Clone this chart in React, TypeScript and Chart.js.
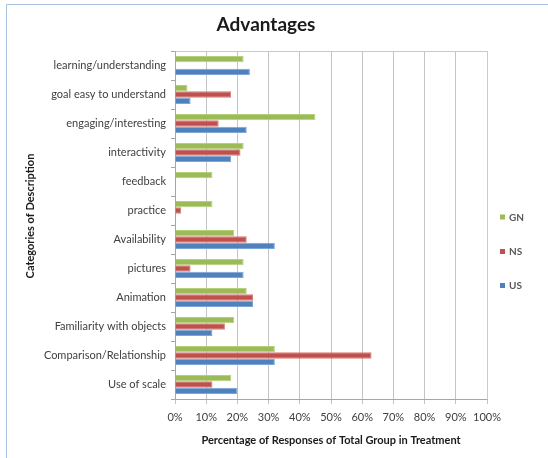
import React, { useEffect, useRef } from "react";
import { Chart, registerables } from "chart.js";

Chart.register(...registerables);

const chartTitle = "Advantages";
const xAxisTitle = "Percentage of Responses of Total Group in Treatment";
const yAxisTitle = "Categories of Description";

const categories = [
  "learning/understanding",
  "goal easy to understand",
  "engaging/interesting",
  "interactivity",
  "feedback",
  "practice",
  "Availability",
  "pictures",
  "Animation",
  "Familiarity with objects",
  "Comparison/Relationship",
  "Use of scale",
];

const seriesNames = ["GN", "NS", "US"];
const gnValues = [22, 4, 45, 22, 12, 12, 19, 22, 23, 19, 32, 18];
const nsValues = [0, 18, 14, 21, 0, 2, 23, 5, 25, 16, 63, 12];
const usValues = [24, 5, 23, 18, 0, 0, 32, 22, 25, 12, 32, 20];
const seriesColors = ["#9BBB59", "#C0504D", "#4F81BD"];
const seriesBorders = ["#B5D07A", "#D87C79", "#7FA4D6"];

const xMin = 0;
const xMax = 100;
const xStep = 10;

const FONT = "Lato, 'Open Sans', sans-serif";

const decorPlugin = {
  id: "decor",
  beforeDraw(chart: any) {
    const ctx = chart.ctx;
    ctx.save();
    ctx.fillStyle = "#FFFFFF";
    ctx.fillRect(0, 0, chart.width, chart.height);
    ctx.strokeStyle = "#A9C1E0";
    ctx.lineWidth = 1;
    ctx.beginPath();
    ctx.moveTo(6.5, chart.height);
    ctx.lineTo(6.5, 4.5);
    ctx.lineTo(chart.width, 4.5);
    ctx.stroke();
    ctx.restore();
  },
  afterDraw(chart: any) {
    const ctx = chart.ctx;
    const ca = chart.chartArea;
    ctx.save();
    // plot area top/right border
    ctx.strokeStyle = "#B9CDE5";
    ctx.lineWidth = 1;
    ctx.beginPath();
    ctx.moveTo(Math.round(ca.left) + 0.5, Math.round(ca.top) + 0.5);
    ctx.lineTo(Math.round(ca.right) + 0.5, Math.round(ca.top) + 0.5);
    ctx.lineTo(Math.round(ca.right) + 0.5, Math.round(ca.bottom) + 0.5);
    ctx.stroke();

    // title
    ctx.fillStyle = "#1A1A1A";
    ctx.font = `bold 19px ${FONT}`;
    ctx.textAlign = "center";
    ctx.textBaseline = "middle";
    ctx.fillText(chartTitle, 266, 25);

    // y axis title
    ctx.save();
    ctx.translate(30, 216);
    ctx.rotate(-Math.PI / 2);
    ctx.font = `bold 11px ${FONT}`;
    ctx.fillStyle = "#1A1A1A";
    ctx.fillText(yAxisTitle, 0, 0);
    ctx.restore();

    // legend
    const ys = [217, 251.5, 285.5];
    chart.data.datasets.forEach((ds: any, i: number) => {
      ctx.fillStyle = ds.backgroundColor;
      ctx.fillRect(500, ys[i] - 2.5, 5, 5);
      ctx.fillStyle = "#595959";
      ctx.font = `bold 10px ${FONT}`;
      ctx.textAlign = "left";
      ctx.textBaseline = "middle";
      ctx.fillText(ds.label, 509, ys[i] + 0.5);
    });
    ctx.restore();
  },
};

export default function App() {
  const canvasRef = useRef<HTMLCanvasElement | null>(null);

  useEffect(() => {
    document.body.style.margin = "0";
    const canvas = canvasRef.current;
    if (!canvas) return;
    const valueSets = [gnValues, nsValues, usValues];
    const chart = new Chart(canvas, {
      type: "bar",
      data: {
        labels: categories,
        datasets: seriesNames.map((name, i) => ({
          label: name,
          data: valueSets[i],
          backgroundColor: seriesColors[i],
          borderColor: seriesBorders[i],
          borderWidth: 1,
          categoryPercentage: 0.66,
          barPercentage: 1.0,
        })),
      },
      options: {
        indexAxis: "y",
        animation: false,
        responsive: false,
        devicePixelRatio: 1,
        layout: { padding: { top: 51, right: 61, left: 0, bottom: 0 } },
        plugins: {
          legend: { display: false },
          title: { display: false },
          tooltip: { enabled: false },
        },
        scales: {
          x: {
            type: "linear",
            min: xMin,
            max: xMax,
            ticks: {
              stepSize: xStep,
              callback: (v: any) => `${v}%`,
              font: { family: FONT, size: 11 },
              color: "#404040",
              padding: 7,
              maxRotation: 0,
            },
            grid: {
              color: "#C4C4C4",
              lineWidth: 1,
              tickLength: 5,
              drawTicks: true,
            },
            border: { display: true, color: "#A6A6A6" },
            title: {
              display: true,
              text: xAxisTitle,
              font: { family: FONT, size: 11, weight: "bold" },
              color: "#1A1A1A",
              padding: { top: 0, bottom: 11 },
            },
            afterFit(scale: any) {
              scale.height = 59;
            },
          },
          y: {
            type: "category",
            offset: true,
            ticks: {
              font: { family: FONT, size: 11 },
              color: "#404040",
              padding: 5,
              autoSkip: false,
            },
            grid: {
              offset: true,
              drawOnChartArea: false,
              drawTicks: true,
              tickLength: 4,
              color: "#A6A6A6",
            },
            border: { display: true, color: "#A6A6A6" },
            afterFit(scale: any) {
              scale.width = 175;
            },
          },
        },
      } as any,
      plugins: [decorPlugin],
    });
    return () => chart.destroy();
  }, []);

  return (
    <div style={{ width: 548, height: 458, position: "relative" }}>
      <canvas ref={canvasRef} width={548} height={458} style={{ display: "block" }} />
    </div>
  );
}
